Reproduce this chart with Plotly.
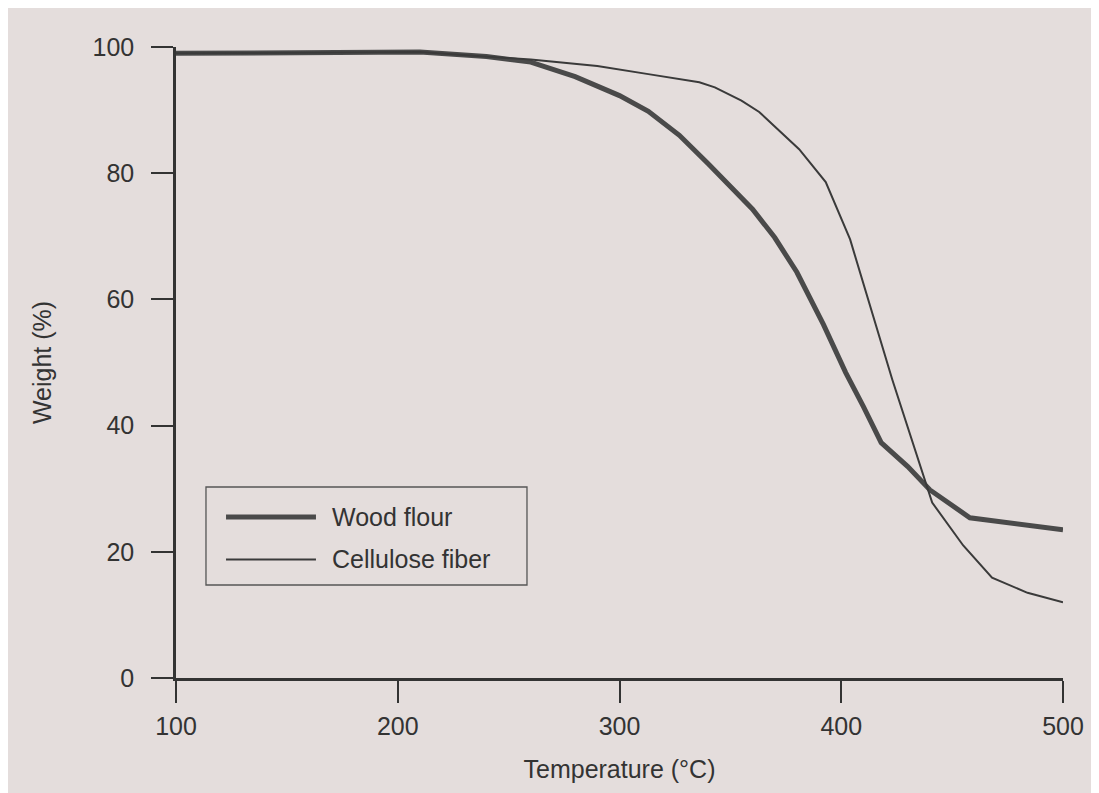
import plotly.graph_objects as go

# Wood flour (thick line)
wood_T = [100, 150, 210, 240, 260, 280, 290, 300, 313, 327, 340, 350, 360, 370, 380, 392, 402, 410, 418, 430, 440, 458, 470, 500]
wood_W = [99.0, 99.1, 99.2, 98.5, 97.6, 95.3, 93.9, 92.3, 89.8, 86.0, 81.5, 78.0, 74.3, 69.8, 64.3, 56.0, 48.4, 43.0, 37.3, 33.5, 29.8, 25.4, 24.8, 23.5]

# Cellulose fiber (thin line)
cell_T = [100, 210, 260, 290, 313, 336, 343, 355, 363, 381, 393, 404, 423, 441, 455, 468, 484, 500]
cell_W = [99.0, 99.2, 98.0, 97.0, 95.7, 94.4, 93.6, 91.5, 89.7, 83.8, 78.6, 69.5, 47.3, 27.8, 21.0, 15.9, 13.5, 12.0]

x_ticks = [100, 200, 300, 400, 500]
y_ticks = [0, 20, 40, 60, 80, 100]
series_names = ["Wood flour", "Cellulose fiber"]

BG = "#e4dddc"
INK = "#333333"
FONT = "Liberation Sans, Arial, sans-serif"
FS = 25

fig = go.Figure()
fig.add_trace(go.Scatter(x=wood_T, y=wood_W, mode="lines", name=series_names[0],
                         line=dict(color="#4a4a4a", width=5)))
fig.add_trace(go.Scatter(x=cell_T, y=cell_W, mode="lines", name=series_names[1],
                         line=dict(color="#3a3a3a", width=2)))

# Manual legend (to mimic the long line samples of the original)
fig.add_shape(type="rect", xref="paper", yref="paper", x0=0.0338, x1=0.3957, y0=0.1474, y1=0.3027,
              line=dict(color="#555555", width=1.3), fillcolor="rgba(0,0,0,0)")
fig.add_shape(type="line", xref="paper", yref="paper", x0=0.0564, x1=0.1578, y0=0.2552, y1=0.2552,
              line=dict(color="#4a4a4a", width=5))
fig.add_shape(type="line", xref="paper", yref="paper", x0=0.0564, x1=0.1578, y0=0.1878, y1=0.1878,
              line=dict(color="#3a3a3a", width=2))
fig.add_annotation(xref="paper", yref="paper", x=0.1736, y=0.2552, text=series_names[0],
                   showarrow=False, xanchor="left", yanchor="middle",
                   font=dict(family=FONT, size=FS, color=INK))
fig.add_annotation(xref="paper", yref="paper", x=0.1736, y=0.1878, text=series_names[1],
                   showarrow=False, xanchor="left", yanchor="middle",
                   font=dict(family=FONT, size=FS, color=INK))

fig.update_layout(
    width=1091, height=785,
    margin=dict(l=168, r=36, t=39, b=115),
    paper_bgcolor=BG, plot_bgcolor=BG,
    showlegend=False,
    font=dict(family=FONT, size=FS, color=INK),
    xaxis=dict(range=[100, 500], tickvals=x_ticks, ticks="outside", ticklen=22, tickwidth=2,
               tickcolor=INK, showline=True, linecolor=INK, linewidth=2.5, showgrid=False,
               zeroline=False, ticklabelstandoff=2,
               tickfont=dict(family=FONT, size=FS, color=INK),
               title=dict(text="Temperature (°C)", standoff=22,
                          font=dict(family=FONT, size=FS, color=INK))),
    yaxis=dict(range=[0, 100], tickvals=y_ticks, ticks="outside", ticklen=22, tickwidth=2,
               tickcolor=INK, showline=True, linecolor=INK, linewidth=2.5, showgrid=False,
               zeroline=False, ticklabelstandoff=12,
               tickfont=dict(family=FONT, size=FS, color=INK),
               title=dict(text="Weight (%)", standoff=34,
                          font=dict(family=FONT, size=FS, color=INK))),
)

fig.write_html("out.html")
